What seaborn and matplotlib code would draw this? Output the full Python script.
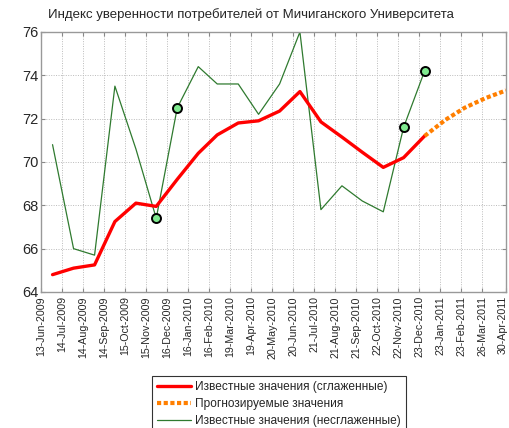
import numpy as np
import pandas as pd
import matplotlib
matplotlib.use("Agg")
import matplotlib.pyplot as plt
import matplotlib.dates as mdates
import matplotlib.transforms as mtransforms
from matplotlib.lines import Line2D
import seaborn as sns

# month-end dates
known_dates = pd.date_range("2009-06-30", "2010-12-31", freq="ME")
forecast_dates = pd.date_range("2010-12-31", "2011-04-30", freq="ME")

raw_values = [70.8, 66.0, 65.7, 73.5, 70.6, 67.4, 72.5, 74.4, 73.6, 73.6,
              72.2, 73.6, 76.0, 67.8, 68.9, 68.2, 67.7, 71.6, 74.2]
smooth_values = [64.8, 65.1, 65.25, 67.25, 68.1, 67.95, 69.2, 70.4, 71.25, 71.8,
                 71.9, 72.35, 73.25, 71.85, 71.15, 70.45, 69.75, 70.2, 71.2]
forecast_values = [71.2, 71.95, 72.5, 72.95, 73.3]
marked_idx = [5, 6, 17, 18]

tick_dates = list(pd.date_range("2009-06-13", periods=22, freq="31D")) + [pd.Timestamp("2011-04-30")]

title = "Индекс уверенности потребителей от Мичиганского Университета"
labels = ["Известные значения (сглаженные)", "Прогнозируемые значения",
          "Известные значения (несглаженные)"]

sns.set_style("ticks")
plt.rcParams['font.family'] = ['Liberation Sans', 'DejaVu Sans']

raw = pd.DataFrame({"date": known_dates, "val": raw_values})
smooth = pd.DataFrame({"date": known_dates, "val": smooth_values})
fc = pd.DataFrame({"date": forecast_dates, "val": forecast_values})

fig = plt.figure(figsize=(5.09, 4.28), dpi=100)
ax = fig.add_axes([0.0806, 0.3178, 0.9134, 0.6075])

green = "#2F7A2F"
sns.lineplot(data=raw, x="date", y="val", ax=ax, color=green, lw=0.9)
sns.lineplot(data=smooth, x="date", y="val", ax=ax, color="#FF0000", lw=2.4)
fl = sns.lineplot(data=fc, x="date", y="val", ax=ax, color="#FF7F00", lw=3.0)
fl.lines[-1].set_dashes((1.0, 0.6))
fl.lines[-1].set_dash_capstyle("butt")
sns.scatterplot(data=raw.iloc[marked_idx], x="date", y="val", ax=ax,
                color="#7FEA8F", edgecolor="black", linewidth=1.4, s=42, zorder=5)

ax.set_xlim(pd.Timestamp("2009-06-13"), pd.Timestamp("2011-04-30"))
ax.set_ylim(64, 76)
ax.set_yticks(range(64, 77, 2))
ax.set_xticks(tick_dates)
ax.xaxis.set_major_formatter(mdates.DateFormatter("%d-%b-%Y"))
ax.tick_params(axis="x", rotation=90, labelsize=7.7, direction="in", top=True, length=3, color="#888888", pad=3)
ax.tick_params(axis="y", labelsize=10.5, direction="in", right=True, length=3, color="#888888", pad=2)
ax.grid(True, color="#BBBBBB", linestyle=(0, (1, 1.5)), lw=0.7)
ax.set_xlabel("")
ax.set_ylabel("")
for s in ax.spines.values():
    s.set_color("#999999")
    s.set_linewidth(1.0)
ax.set_title(title, fontsize=9.5, pad=10, x=0.452)

# nudge the last date label so it stays inside the picture
last = ax.get_xticklabels()[-1]
last.set_transform(last.get_transform() + mtransforms.ScaledTranslation(-3 / 100, 0, fig.dpi_scale_trans))

handles = [Line2D([], [], color="#FF0000", lw=2.4),
           Line2D([], [], color="#FF7F00", lw=3.0, dashes=(1.0, 0.6), dash_capstyle="butt"),
           Line2D([], [], color=green, lw=0.9)]
leg = fig.legend(handles, labels, loc="upper left", bbox_to_anchor=(0.2986, 0.1215),
                 fontsize=8.55, frameon=True, fancybox=False, handlelength=2.8,
                 handletextpad=0.34, borderpad=0.45, labelspacing=0.4, borderaxespad=0)
leg.get_frame().set_edgecolor("black")
leg.get_frame().set_linewidth(0.8)

fig.savefig("out.png", dpi=100)
